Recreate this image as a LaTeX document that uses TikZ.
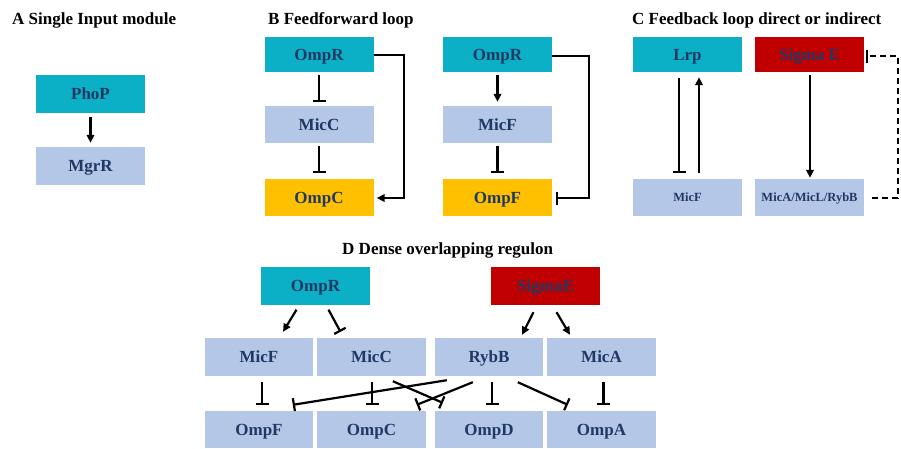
\documentclass[tikz,border=0pt]{standalone}
\usepackage{fontspec}
\setmainfont{Liberation Serif}
\usetikzlibrary{arrows.meta,calc}
\definecolor{tealbox}{RGB}{12,176,198}
\definecolor{lightbox}{RGB}{180,199,231}
\definecolor{goldbox}{RGB}{255,192,0}
\definecolor{redbox}{RGB}{192,0,0}
\definecolor{navytxt}{RGB}{31,56,100}
\tikzset{
  gbox/.style={minimum width=109pt,minimum height=37pt,inner sep=0pt,text=navytxt,
    text height=11.5pt,text depth=0pt,
    font=\fontsize{17}{17}\selectfont\bfseries},
  tbox/.style={gbox,fill=tealbox},
  lbox/.style={gbox,fill=lightbox},
  obox/.style={gbox,fill=goldbox},
  rbox/.style={gbox,fill=redbox},
  smalltxt/.style={font=\fontsize{12.5}{12.5}\selectfont\bfseries,text height=8.5pt},
  ttl/.style={anchor=west,inner sep=0pt,font=\fontsize{17}{17}\selectfont\bfseries},
  act/.style={line width=2.2pt,-{Triangle[length=8pt,width=7.5pt]}},
  inh/.style={line width=2.2pt,-{Bar[width=13pt,line width=2.2pt]}},
  dsh/.style={line width=2.2pt,dash pattern=on 6pt off 4pt}
}
\begin{document}
\begin{tikzpicture}[x=1pt,y=-1pt]
\useasboundingbox (0,0) rectangle (901,448);
% titles
\node[ttl] (tA) at (12,20) {A Single Input module};
\node[ttl] (tB) at (268,20) {B Feedforward loop};
\node[ttl] (tC) at (632,20) {C Feedback loop direct or indirect};
\node[ttl] (tD) at (342,250) {D Dense overlapping regulon};
% Panel A
\node[tbox,minimum height=38pt] (phop) at (90.5,94) {PhoP};
\node[lbox,minimum height=38pt] (mgrr) at (90.5,166) {MgrR};
\draw[act] ($(phop.south)+(0,4)$) -- ($(mgrr.north)+(0,-4)$);
% Panel B left
\node[tbox,minimum height=35pt] (ompr1) at (319,54.5) {OmpR};
\node[lbox] (micc1) at (319,124.5) {MicC};
\node[obox] (ompc1) at (319,197.5) {OmpC};
\draw[inh] ($(ompr1.south)+(0,3)$) -- ($(micc1.north)+(0,-4)$);
\draw[inh] ($(micc1.south)+(0,3)$) -- ($(ompc1.north)+(0,-6)$);
\coordinate (b1a) at (404,55);
\coordinate (b1b) at (404,198);
\draw[act] (ompr1.east |- b1a) -- (b1a) -- (b1b) -- ($(ompc1.east |- b1b)+(3,0)$);
% Panel B right
\node[tbox,minimum height=35pt] (ompr2) at (497.5,54.5) {OmpR};
\node[lbox] (micf1) at (497.5,124.5) {MicF};
\node[obox] (ompf1) at (497.5,197.5) {OmpF};
\draw[act] ($(ompr2.south)+(0,3)$) -- ($(micf1.north)+(0,-4)$);
\draw[inh] ($(micf1.south)+(0,3)$) -- ($(ompf1.north)+(0,-6)$);
\coordinate (b2a) at (589,56);
\coordinate (b2b) at (589,198);
\draw[inh] (ompr2.east |- b2a) -- (b2a) -- (b2b) -- ($(ompf1.east |- b2b)+(4,0)$);
% Panel C
\node[tbox,minimum height=35pt] (lrp) at (687.5,54.5) {Lrp};
\node[rbox,minimum height=35pt] (sige) at (809.5,54.5) {Sigma E};
\node[lbox,smalltxt] (micf2) at (687.5,197.5) {MicF};
\node[lbox,smalltxt] (mica2) at (809.5,197.5) {MicA/MicL/RybB};
\draw[inh] ($(lrp.south)+(-8.5,6)$) -- ($(micf2.north)+(-8.5,-6)$);
\draw[act] ($(micf2.north)+(11.5,-6)$) -- ($(lrp.south)+(11.5,5)$);
\draw[act] ($(sige.south)+(0.5,3)$) -- ($(mica2.north)+(0.5,-1)$);
\coordinate (c1) at (898,198);
\coordinate (c2) at (898,56);
\draw[dsh] ($(mica2.east |- c1)+(8,0)$) -- (c1) -- (c2) -- ($(sige.east |- c2)+(3,0)$);
\draw[line width=2.2pt] ($(sige.east |- c2)+(3,-6.5)$) -- ($(sige.east |- c2)+(3,6.5)$);
% Panel D
\node[tbox,minimum height=38pt] (ompr3) at (315.5,286) {OmpR};
\node[rbox,minimum height=38pt] (sigd) at (545.5,286) {SigmaE};
\node[lbox,minimum width=108pt,minimum height=38pt] (micf3) at (259,357) {MicF};
\node[lbox,minimum height=38pt] (micc3) at (371.5,357) {MicC};
\node[lbox,minimum width=108pt,minimum height=38pt] (rybb) at (489,357) {RybB};
\node[lbox,minimum height=38pt] (mica3) at (601.5,357) {MicA};
\node[lbox,minimum width=108pt,minimum height=37pt] (ompf3) at (259,429.5) {OmpF};
\node[lbox,minimum height=37pt] (ompc3) at (371.5,429.5) {OmpC};
\node[lbox,minimum width=108pt,minimum height=37pt] (ompd3) at (489,429.5) {OmpD};
\node[lbox,minimum height=37pt] (ompa3) at (601.5,429.5) {OmpA};
\draw[act] ($(ompr3.south)+(-19,4.5)$) -- ($(micf3.north)+(24,-6)$);
\draw[inh] ($(ompr3.south)+(13,4.5)$) -- ($(micc3.north)+(-31,-6)$);
\draw[act] ($(sigd.south)+(-12,7)$) -- ($(rybb.north)+(33,-3)$);
\draw[act] ($(sigd.south)+(11,7)$) -- ($(mica3.north)+(-31.5,-3)$);
\draw[inh] ($(micf3.south)+(3,6)$) -- ($(ompf3.north)+(3,-6)$);
\draw[inh] ($(micc3.south)+(0.5,6)$) -- ($(ompc3.north)+(0.5,-6)$);
\draw[inh] ($(rybb.south)+(3,6)$) -- ($(ompd3.north)+(3,-6)$);
\draw[inh] ($(mica3.south)+(2,6)$) -- ($(ompa3.north)+(2,-6)$);
\draw[inh] ($(rybb.south west)+(12,4)$) -- ($(ompf3.north west)+(88,-6)$);
\draw[inh] ($(rybb.south west)+(38,6)$) -- ($(ompc3.north west)+(100,-6)$);
\draw[inh] ($(micc3.south west)+(76,5)$) -- ($(ompd3.north west)+(8,-8)$);
\draw[inh] ($(rybb.south west)+(83,6)$) -- ($(ompa3.north west)+(21,-6)$);
\end{tikzpicture}
\end{document}
